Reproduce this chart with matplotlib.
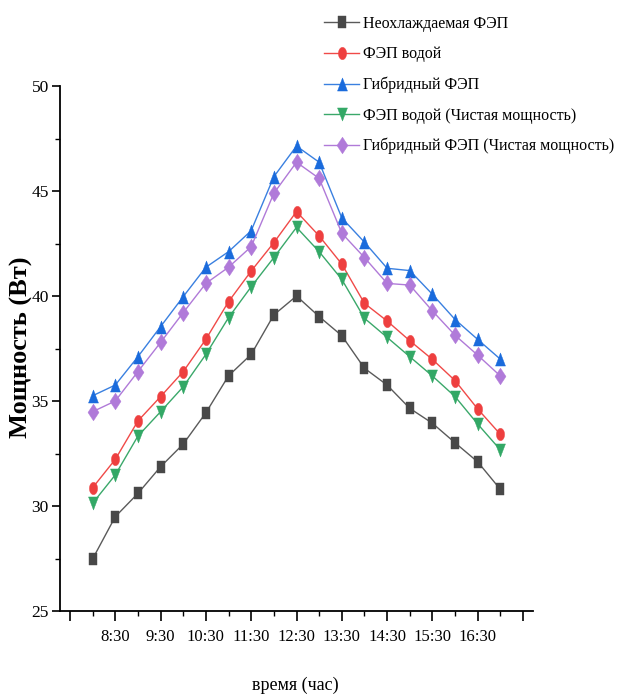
import matplotlib
matplotlib.use("Agg")
import numpy as np
import matplotlib.pyplot as plt
from matplotlib.ticker import FixedLocator, MultipleLocator
from matplotlib.path import Path

times = ["8:00", "8:30", "9:00", "9:30", "10:00", "10:30", "11:00", "11:30", "12:00", "12:30",
         "13:00", "13:30", "14:00", "14:30", "15:00", "15:30", "16:00", "16:30", "17:00"]

uncooled = [27.48, 29.49, 30.60, 31.87, 32.95, 34.44, 36.20, 37.22, 39.10, 40.00,
            39.02, 38.11, 36.56, 35.76, 34.65, 33.94, 33.01, 32.10, 30.79]
water = [30.87, 32.22, 34.05, 35.21, 36.40, 37.94, 39.73, 41.19, 42.54, 44.02,
         42.86, 41.52, 39.65, 38.81, 37.87, 36.98, 35.97, 34.62, 33.41]
hybrid = [35.25, 35.76, 37.11, 38.54, 39.97, 41.37, 42.11, 43.11, 45.68, 47.14,
          46.37, 43.72, 42.56, 41.32, 41.21, 40.08, 38.88, 37.93, 36.99]
water_net = [30.13, 31.48, 33.33, 34.49, 35.68, 37.22, 38.97, 40.44, 41.83, 43.27,
             42.11, 40.79, 38.94, 38.03, 37.11, 36.19, 35.21, 33.90, 32.67]
hybrid_net = [34.49, 35.00, 36.40, 37.79, 39.21, 40.60, 41.37, 42.35, 44.89, 46.37,
              45.60, 42.99, 41.83, 40.60, 40.52, 39.29, 38.13, 37.18, 36.19]

labels = ["Неохлаждаемая ФЭП", "ФЭП водой", "Гибридный ФЭП",
          "ФЭП водой (Чистая мощность)", "Гибридный ФЭП (Чистая мощность)"]
tick_times = ["7:30", "8:30", "9:30", "10:30", "11:30", "12:30", "13:30", "14:30", "15:30", "16:30", "17:30"]
tick_labels = ["", "8:30", "9:30", "10:30", "11:30", "12:30", "13:30", "14:30", "15:30", "16:30", ""]


def to_hours(t):
    h, m = t.split(":")
    return int(h) + int(m) / 60.0


x = [to_hours(t) for t in times]
xt = [to_hours(t) for t in tick_times]

# horizontally squeezed marker shapes (as in the reference)
SQ = 0.66


def poly(pts):
    pts = list(pts) + [pts[0]]
    codes = [Path.MOVETO] + [Path.LINETO] * (len(pts) - 2) + [Path.CLOSEPOLY]
    return Path(pts, codes)


theta = np.linspace(0, 2 * np.pi, 41)[:-1]
m_square = poly([(-SQ, -1), (SQ, -1), (SQ, 1), (-SQ, 1)])
m_circle = poly(list(zip(SQ * np.cos(theta), np.sin(theta))))
tw = 1.1547 * SQ
m_tri_up = poly([(0, 1), (-tw, -1), (tw, -1)])
m_tri_dn = poly([(0, -1), (tw, 1), (-tw, 1)])
m_diam = poly([(0, 1), (SQ, 0), (0, -1), (-SQ, 0)])

plt.rcParams['font.family'] = ['Liberation Serif', 'DejaVu Serif']

fig = plt.figure(figsize=(6.17, 6.95), dpi=100)
ax = fig.add_axes([60 / 617, 1 - 611 / 695, (533 - 60) / 617, (611 - 86) / 695])

series = [uncooled, water, hybrid, water_net, hybrid_net]
line_colors = ["#5a5a5a", "#f04a48", "#3a80e0", "#3aa86a", "#b07ad8"]
mk_colors = ["#484848", "#ee3f3f", "#1a6bdc", "#33a866", "#b07ad9"]
markers = [m_square, m_circle, m_tri_up, m_tri_dn, m_diam]
msizes = [8.4, 8.9, 9.4, 9.4, 12.0]

for ys, lc, mc, m, ms, lab in zip(series, line_colors, mk_colors, markers, msizes, labels):
    ax.plot(x, ys, color=lc, lw=1.0, marker=m, markersize=ms, markerfacecolor=mc,
            markeredgecolor=mc, markeredgewidth=0.3, label=lab)

ax.set_xlim(7.28, 17.72)
ax.set_ylim(25, 50)
ax.xaxis.set_major_locator(FixedLocator(xt))
ax.set_xticklabels(tick_labels)
ax.xaxis.set_minor_locator(MultipleLocator(0.5))
ax.yaxis.set_major_locator(MultipleLocator(5))
ax.yaxis.set_minor_locator(MultipleLocator(2.5))
ax.tick_params(which='major', direction='out', width=1.2, labelsize=12.5)
ax.tick_params(which='minor', direction='out', length=3.5, width=1.0)
ax.tick_params(axis='x', which='major', length=7, pad=6, labelsize=12)
ax.tick_params(axis='y', which='major', length=6, pad=2)
for s in ['top', 'right']:
    ax.spines[s].set_visible(False)
for s in ['left', 'bottom']:
    ax.spines[s].set_linewidth(1.3)

ax.set_ylabel("Мощность (Вт)", fontsize=19, fontweight='bold')
ax.yaxis.label.set_va('center')
ax.yaxis.set_label_coords((21 - 60) / 473, 0.503)
ax.set_xlabel("время (час)", fontsize=13)
ax.xaxis.label.set_va('center')
ax.xaxis.set_label_coords(0.497, (611 - 685) / 525)

fig.legend(loc='upper left', bbox_to_anchor=(324 / 617, 1 - 16 / 695), frameon=False,
           fontsize=11.5, handlelength=2.2, handletextpad=0.25, labelspacing=0.9,
           borderpad=0, borderaxespad=0)

fig.savefig("out.png", dpi=100)
